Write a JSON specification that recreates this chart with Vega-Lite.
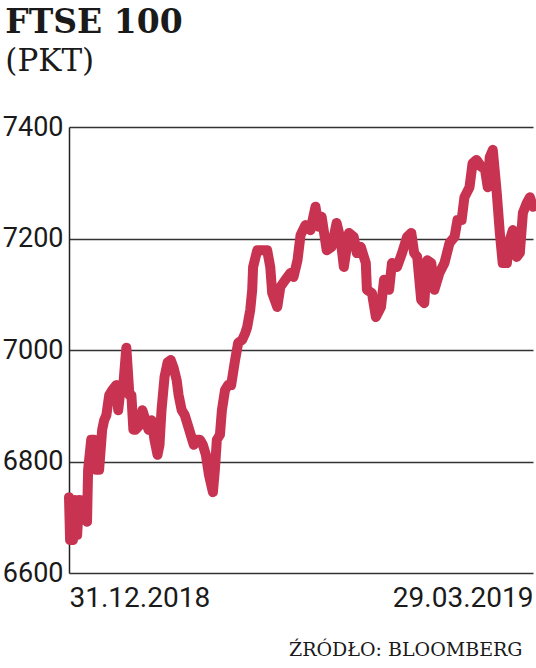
{
  "$schema": "https://vega.github.io/schema/vega-lite/v6.json",
  "width": 464,
  "height": 446,
  "autosize": {"type": "none"},
  "padding": {"left": 69, "top": 127, "right": 3, "bottom": 95},
  "background": "white",
  "title": {
    "text": "FTSE 100",
    "subtitle": "(PKT)",
    "anchor": "start",
    "frame": "bounds",
    "font": "DejaVu Serif",
    "fontSize": 33,
    "fontWeight": "bold",
    "color": "#1a1a1a",
    "subtitleFont": "DejaVu Serif",
    "subtitleFontSize": 31,
    "subtitleColor": "#1a1a1a",
    "subtitlePadding": 7,
    "offset": 36,
    "dx": 3
  },
  "data": {
    "values": [
      {"date": "2018-12-31T00:00", "value": 6736},
      {"date": "2018-12-31T05:00", "value": 6659},
      {"date": "2018-12-31T18:00", "value": 6659},
      {"date": "2019-01-01T04:00", "value": 6731},
      {"date": "2019-01-01T13:00", "value": 6668},
      {"date": "2019-01-01T22:00", "value": 6731},
      {"date": "2019-01-02T07:00", "value": 6695},
      {"date": "2019-01-02T21:00", "value": 6731},
      {"date": "2019-01-03T10:00", "value": 6692},
      {"date": "2019-01-03T15:00", "value": 6785},
      {"date": "2019-01-04T05:00", "value": 6839},
      {"date": "2019-01-04T18:00", "value": 6839},
      {"date": "2019-01-05T04:00", "value": 6785},
      {"date": "2019-01-05T17:00", "value": 6785},
      {"date": "2019-01-06T07:00", "value": 6857},
      {"date": "2019-01-06T16:00", "value": 6874},
      {"date": "2019-01-07T02:00", "value": 6883},
      {"date": "2019-01-07T15:00", "value": 6919},
      {"date": "2019-01-08T05:00", "value": 6928},
      {"date": "2019-01-08T23:00", "value": 6937},
      {"date": "2019-01-09T08:00", "value": 6892},
      {"date": "2019-01-09T18:00", "value": 6928},
      {"date": "2019-01-10T07:00", "value": 6937},
      {"date": "2019-01-10T21:00", "value": 7004},
      {"date": "2019-01-11T11:00", "value": 6919},
      {"date": "2019-01-11T20:00", "value": 6919},
      {"date": "2019-01-12T05:00", "value": 6857},
      {"date": "2019-01-12T14:00", "value": 6857},
      {"date": "2019-01-13T09:00", "value": 6865},
      {"date": "2019-01-13T22:00", "value": 6892},
      {"date": "2019-01-14T12:00", "value": 6874},
      {"date": "2019-01-15T02:00", "value": 6857},
      {"date": "2019-01-15T16:00", "value": 6874},
      {"date": "2019-01-16T05:00", "value": 6839},
      {"date": "2019-01-16T19:00", "value": 6812},
      {"date": "2019-01-17T04:00", "value": 6830},
      {"date": "2019-01-17T13:00", "value": 6892},
      {"date": "2019-01-18T03:00", "value": 6952},
      {"date": "2019-01-18T17:00", "value": 6978},
      {"date": "2019-01-19T07:00", "value": 6982},
      {"date": "2019-01-19T20:00", "value": 6968},
      {"date": "2019-01-20T10:00", "value": 6946},
      {"date": "2019-01-20T19:00", "value": 6919},
      {"date": "2019-01-21T09:00", "value": 6892},
      {"date": "2019-01-21T23:00", "value": 6883},
      {"date": "2019-01-22T13:00", "value": 6865},
      {"date": "2019-01-23T02:00", "value": 6848},
      {"date": "2019-01-23T16:00", "value": 6830},
      {"date": "2019-01-24T06:00", "value": 6839},
      {"date": "2019-01-24T20:00", "value": 6839},
      {"date": "2019-01-25T09:00", "value": 6830},
      {"date": "2019-01-25T23:00", "value": 6812},
      {"date": "2019-01-26T13:00", "value": 6776},
      {"date": "2019-01-27T07:00", "value": 6745},
      {"date": "2019-01-27T16:00", "value": 6785},
      {"date": "2019-01-28T01:00", "value": 6839},
      {"date": "2019-01-28T15:00", "value": 6848},
      {"date": "2019-01-29T00:00", "value": 6892},
      {"date": "2019-01-29T14:00", "value": 6928},
      {"date": "2019-01-30T04:00", "value": 6937},
      {"date": "2019-01-30T18:00", "value": 6937},
      {"date": "2019-01-31T12:00", "value": 6982},
      {"date": "2019-02-01T02:00", "value": 7013},
      {"date": "2019-02-01T20:00", "value": 7018},
      {"date": "2019-02-02T10:00", "value": 7030},
      {"date": "2019-02-02T19:00", "value": 7041},
      {"date": "2019-02-03T09:00", "value": 7072},
      {"date": "2019-02-03T18:00", "value": 7108},
      {"date": "2019-02-03T22:00", "value": 7149},
      {"date": "2019-02-04T17:00", "value": 7179},
      {"date": "2019-02-05T16:00", "value": 7179},
      {"date": "2019-02-06T14:00", "value": 7179},
      {"date": "2019-02-07T04:00", "value": 7149},
      {"date": "2019-02-07T13:00", "value": 7102},
      {"date": "2019-02-08T12:00", "value": 7077},
      {"date": "2019-02-09T02:00", "value": 7113},
      {"date": "2019-02-10T01:00", "value": 7126},
      {"date": "2019-02-11T00:00", "value": 7138},
      {"date": "2019-02-11T14:00", "value": 7131},
      {"date": "2019-02-12T08:00", "value": 7161},
      {"date": "2019-02-12T22:00", "value": 7206},
      {"date": "2019-02-13T20:00", "value": 7224},
      {"date": "2019-02-14T19:00", "value": 7215},
      {"date": "2019-02-15T18:00", "value": 7257},
      {"date": "2019-02-16T08:00", "value": 7221},
      {"date": "2019-02-16T22:00", "value": 7239},
      {"date": "2019-02-17T21:00", "value": 7179},
      {"date": "2019-02-18T20:00", "value": 7185},
      {"date": "2019-02-19T18:00", "value": 7228},
      {"date": "2019-02-20T13:00", "value": 7197},
      {"date": "2019-02-21T03:00", "value": 7149},
      {"date": "2019-02-22T02:00", "value": 7210},
      {"date": "2019-02-23T00:00", "value": 7203},
      {"date": "2019-02-23T14:00", "value": 7174},
      {"date": "2019-02-24T08:00", "value": 7185},
      {"date": "2019-02-25T07:00", "value": 7156},
      {"date": "2019-02-25T12:00", "value": 7108},
      {"date": "2019-02-26T11:00", "value": 7102},
      {"date": "2019-02-27T05:00", "value": 7059},
      {"date": "2019-02-28T04:00", "value": 7077},
      {"date": "2019-02-28T18:00", "value": 7126},
      {"date": "2019-03-01T17:00", "value": 7108},
      {"date": "2019-03-02T06:00", "value": 7156},
      {"date": "2019-03-03T05:00", "value": 7149},
      {"date": "2019-03-04T04:00", "value": 7174},
      {"date": "2019-03-05T03:00", "value": 7203},
      {"date": "2019-03-05T22:00", "value": 7210},
      {"date": "2019-03-06T11:00", "value": 7174},
      {"date": "2019-03-07T01:00", "value": 7167},
      {"date": "2019-03-07T19:00", "value": 7090},
      {"date": "2019-03-08T09:00", "value": 7084},
      {"date": "2019-03-08T23:00", "value": 7161},
      {"date": "2019-03-09T17:00", "value": 7156},
      {"date": "2019-03-10T07:00", "value": 7108},
      {"date": "2019-03-11T06:00", "value": 7138},
      {"date": "2019-03-12T05:00", "value": 7156},
      {"date": "2019-03-13T04:00", "value": 7192},
      {"date": "2019-03-14T03:00", "value": 7203},
      {"date": "2019-03-14T16:00", "value": 7233},
      {"date": "2019-03-15T11:00", "value": 7233},
      {"date": "2019-03-16T00:00", "value": 7274},
      {"date": "2019-03-16T23:00", "value": 7292},
      {"date": "2019-03-17T13:00", "value": 7335},
      {"date": "2019-03-18T07:00", "value": 7341},
      {"date": "2019-03-19T06:00", "value": 7328},
      {"date": "2019-03-19T20:00", "value": 7328},
      {"date": "2019-03-20T10:00", "value": 7292},
      {"date": "2019-03-20T19:00", "value": 7346},
      {"date": "2019-03-21T09:00", "value": 7359},
      {"date": "2019-03-22T03:00", "value": 7282},
      {"date": "2019-03-22T17:00", "value": 7210},
      {"date": "2019-03-23T06:00", "value": 7156},
      {"date": "2019-03-24T01:00", "value": 7156},
      {"date": "2019-03-24T14:00", "value": 7197},
      {"date": "2019-03-25T04:00", "value": 7215},
      {"date": "2019-03-25T22:00", "value": 7167},
      {"date": "2019-03-26T12:00", "value": 7174},
      {"date": "2019-03-27T02:00", "value": 7246},
      {"date": "2019-03-27T20:00", "value": 7264},
      {"date": "2019-03-28T10:00", "value": 7274},
      {"date": "2019-03-29T00:00", "value": 7257}
    ]
  },
  "mark": {
    "type": "line",
    "color": "#c83352",
    "strokeWidth": 10,
    "strokeCap": "round",
    "strokeJoin": "round",
    "clip": false
  },
  "encoding": {
    "x": {
      "field": "date",
      "type": "temporal",
      "scale": {
        "domain": [
          {"year": 2018, "month": 12, "date": 31},
          {"year": 2019, "month": 3, "date": 29}
        ]
      },
      "axis": {
        "values": [
          {"year": 2018, "month": 12, "date": 31},
          {"year": 2019, "month": 3, "date": 29}
        ],
        "format": "%d.%m.%Y",
        "labelFlush": true,
        "labelFont": "Roboto",
        "labelFontSize": 28,
        "labelColor": "#1a1a1a",
        "labelPadding": 11,
        "ticks": false,
        "domain": false,
        "grid": false,
        "title": "ŹRÓDŁO: BLOOMBERG",
        "titleAnchor": "end",
        "titleAlign": "right",
        "titleX": 453,
        "titleFont": "DejaVu Serif",
        "titleFontSize": 19,
        "titleFontWeight": "normal",
        "titleColor": "#1a1a1a",
        "titlePadding": 28
      }
    },
    "y": {
      "field": "value",
      "type": "quantitative",
      "scale": {"domain": [6600, 7400], "nice": false, "zero": false},
      "axis": {
        "values": [6600, 6800, 7000, 7200, 7400],
        "format": "d",
        "labelFont": "Roboto",
        "labelFontSize": 27,
        "labelColor": "#1a1a1a",
        "labelPadding": 6,
        "ticks": false,
        "domain": true,
        "domainColor": "#222222",
        "domainWidth": 1.5,
        "grid": true,
        "gridColor": "#333333",
        "gridWidth": 1.5,
        "gridOpacity": 1,
        "title": null
      }
    }
  },
  "config": {
    "view": {"stroke": null}
  }
}
